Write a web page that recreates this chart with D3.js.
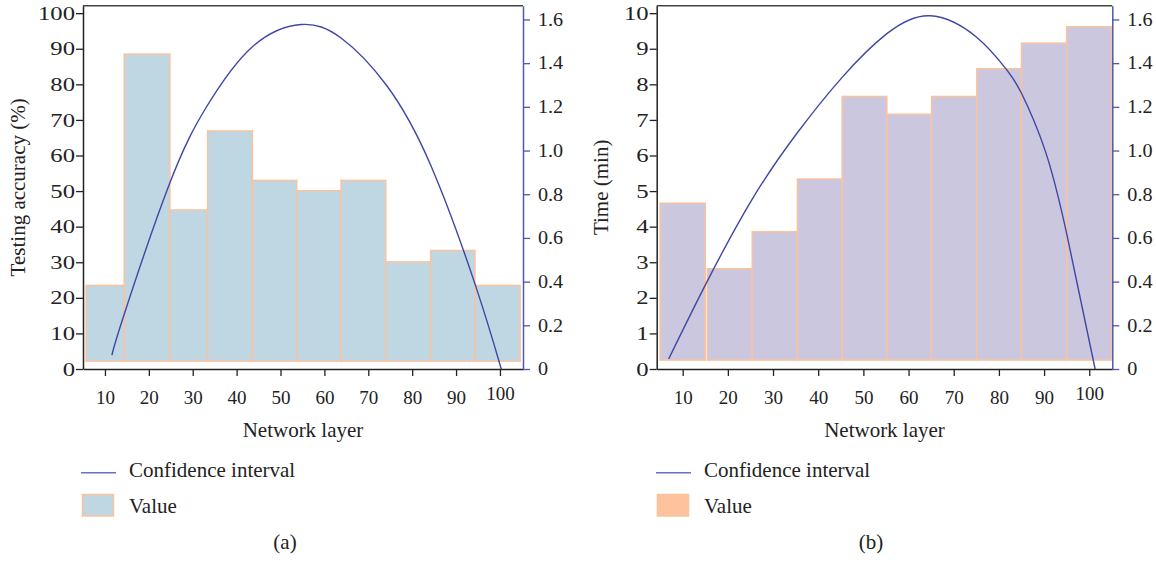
<!DOCTYPE html>
<html>
<head>
<meta charset="utf-8">
<script src="https://cdn.jsdelivr.net/npm/d3@7"></script>
<style>
  body { margin: 0; background: #fff; }
  text { font-family: "Liberation Serif", "Times New Roman", serif; fill: #222; }
</style>
</head>
<body>
<div id="chart"></div>
<script>
const width = 1156
const height = 561

/* Panel (a): testing accuracy per network layer bin */
const binStartA = [5.7, 14.4, 24.8, 33.4, 43.6, 53.7, 63.8, 74.0, 84.2, 94.3]
const binEndA = [14.4, 24.8, 33.4, 43.6, 53.7, 63.8, 74.0, 84.2, 94.3, 104.6]
const accuracy = [23.5, 88.5, 44.7, 66.9, 53.0, 50.1, 53.0, 30.1, 33.3, 23.5]
const accuracyBase = 2.2
const ciLayerA = [11.6, 14.3, 24.6, 33.3, 43.6, 54.7, 63.8, 74.1, 84.2, 94.4, 100.3]
const ciValueA = [0.064, 0.245, 0.842, 1.205, 1.475, 1.577, 1.515, 1.300, 0.934, 0.384, 0.0]

/* Panel (b): time per network layer bin */
const binStartB = [5.0, 15.45, 25.4, 35.4, 45.3, 55.2, 65.1, 75.1, 85.0, 95.0]
const binEndB = [15.0, 25.4, 35.4, 45.3, 55.2, 65.1, 75.1, 85.0, 95.0, 105.0]
const timeMin = [4.66, 2.82, 3.86, 5.34, 7.66, 7.16, 7.66, 8.44, 9.16, 9.62]
const timeBase = 0.25
const ciLayerB = [6.9, 15.4, 25.5, 35.3, 45.3, 55.2, 64.8, 75.0, 81.7, 85.0, 90.2, 95.0, 101.3]
const ciValueB = [0.046, 0.400, 0.781, 1.079, 1.335, 1.535, 1.617, 1.520, 1.370, 1.262, 1.002, 0.620, 0.0]

/* Ticks */
const layerTicks = [10, 20, 30, 40, 50, 60, 70, 80, 90, 100]
const accuracyTicks = [0, 10, 20, 30, 40, 50, 60, 70, 80, 90, 100]
const timeTicks = [0, 1, 2, 3, 4, 5, 6, 7, 8, 9, 10]
const ciTicks = [0, 0.2, 0.4, 0.6, 0.8, 1.0, 1.2, 1.4, 1.6]

const blue = '#3f46a6'
const axisBlue = '#5257aa'
const orange = '#fbc39d'

const svg = d3.select('#chart').append('svg').attr('width', width).attr('height', height)

drawPanel({
    left: 83, right: 523, top: 5.7, bottom: 369,
    xDomain: [5, 105.25], yMax: 102.1,
    yTicks: accuracyTicks, yTitle: 'Testing accuracy (%)', yTitleX: 25,
    bars: accuracy.map((v, i) => ({ x0: binStartA[i], x1: binEndA[i], v })),
    base: accuracyBase, fill: '#bfd6e3',
    ci: ciLayerA.map((x, i) => ({ x, v: ciValueA[i] })),
    swatchFill: '#bfd6e3', swatchStroke: orange,
    legendX: 81, captionX: 285, caption: '(a)'
})

drawPanel({
    left: 656.7, right: 1112.3, top: 5.7, bottom: 369,
    xDomain: [4.25, 105.1], yMax: 10.21,
    yTicks: timeTicks, yTitle: 'Time (min)', yTitleX: 608,
    bars: timeMin.map((v, i) => ({ x0: binStartB[i], x1: binEndB[i], v })),
    base: timeBase, fill: '#cbc7df',
    ci: ciLayerB.map((x, i) => ({ x, v: ciValueB[i] })),
    swatchFill: '#fdc39c', swatchStroke: '#fdc39c',
    legendX: 656, captionX: 871, caption: '(b)'
})

function drawPanel(c) {
    const x = d3.scaleLinear().domain(c.xDomain).range([c.left, c.right])
    const y = d3.scaleLinear().domain([0, c.yMax]).range([c.bottom, c.top])
    const yCi = d3.scaleLinear().domain([0, 1.663]).range([c.bottom, c.top])
    const g = svg.append('g')

    /* bars */
    g.selectAll('rect.bar')
        .data(c.bars)
        .join('rect')
        .attr('class', 'bar')
        .attr('x', d => x(d.x0))
        .attr('width', d => x(d.x1) - x(d.x0))
        .attr('y', d => y(d.v))
        .attr('height', d => y(c.base) - y(d.v))
        .attr('fill', c.fill)
        .attr('stroke', orange)
        .attr('stroke-width', 1.5)

    /* confidence curve */
    const line = d3.line().x(d => x(d.x)).y(d => yCi(d.v)).curve(d3.curveNatural)
    g.append('path')
        .datum(c.ci)
        .attr('d', line)
        .attr('fill', 'none')
        .attr('stroke', blue)
        .attr('stroke-width', 1.4)

    /* frame top */
    g.append('line')
        .attr('x1', c.left).attr('x2', c.right)
        .attr('y1', c.top).attr('y2', c.top)
        .attr('stroke', '#444').attr('stroke-width', 1.5)

    /* bottom axis */
    const xAxis = g.append('g')
        .attr('transform', `translate(0,${c.bottom})`)
        .call(d3.axisBottom(x).tickValues(layerTicks).tickSize(7).tickPadding(15).tickSizeOuter(0))
    xAxis.select('.domain').attr('stroke', '#222').attr('stroke-width', 1.5)
    xAxis.selectAll('.tick line').attr('stroke', '#222').attr('stroke-width', 1.3)
    xAxis.selectAll('.tick text')
        .attr('fill', '#222')
        .style('font-size', '19px')
        .style('font-family', '"Liberation Serif", serif')
        .attr('dy', d => d === 100 ? '0.45em' : '0.71em')

    /* left axis */
    const yAxis = g.append('g')
        .attr('transform', `translate(${c.left},0)`)
        .call(d3.axisLeft(y).tickValues(c.yTicks).tickSize(7).tickSizeOuter(0))
    yAxis.select('.domain').attr('stroke', '#222').attr('stroke-width', 1.5)
    yAxis.selectAll('.tick line').attr('stroke', '#222').attr('stroke-width', 1.3)
    yAxis.selectAll('.tick text')
        .attr('fill', '#222')
        .style('font-size', '19px')
        .style('font-family', '"Liberation Serif", serif')
        .attr('x', 0)
        .attr('transform', 'translate(-8,0) scale(1.3,1)')

    /* right axis */
    const ciAxis = g.append('g')
        .attr('transform', `translate(${c.right},0)`)
        .call(d3.axisRight(yCi).tickValues(ciTicks).tickSize(7).tickSizeOuter(0)
            .tickFormat(d => d === 0 ? '0' : d3.format('.1f')(d)))
    ciAxis.select('.domain').attr('stroke', axisBlue).attr('stroke-width', 1.5)
    ciAxis.selectAll('.tick line').attr('stroke', axisBlue).attr('stroke-width', 1.3)
    ciAxis.selectAll('.tick text')
        .attr('fill', axisBlue)
        .style('font-size', '18px')
        .style('font-family', '"Liberation Serif", serif')
        .attr('x', 0)
        .attr('transform', 'translate(15,0) scale(1.12,1)')

    /* axis titles */
    g.append('text')
        .attr('transform', `translate(${c.yTitleX},${(c.top + c.bottom) / 2}) rotate(-90)`)
        .attr('text-anchor', 'middle')
        .style('font-size', '21px')
        .text(c.yTitle)
    g.append('text')
        .attr('x', (c.left + c.right) / 2)
        .attr('y', 437)
        .attr('text-anchor', 'middle')
        .style('font-size', '21px')
        .text('Network layer')

    /* legend */
    const lg = g.append('g').attr('transform', `translate(${c.legendX},0)`)
    lg.append('line')
        .attr('x1', 0).attr('x2', 35)
        .attr('y1', 472.7).attr('y2', 472.7)
        .attr('stroke', '#6a6fc0').attr('stroke-width', 1.6)
    lg.append('text').attr('x', 48).attr('y', 477).style('font-size', '21px').text('Confidence interval')
    lg.append('rect')
        .attr('x', 1.5).attr('y', 494.5).attr('width', 31).attr('height', 21.5)
        .attr('fill', c.swatchFill).attr('stroke', c.swatchStroke).attr('stroke-width', 1.5)
    lg.append('text').attr('x', 48).attr('y', 512.5).style('font-size', '21px').text('Value')

    g.append('text')
        .attr('x', c.captionX).attr('y', 549)
        .attr('text-anchor', 'middle')
        .style('font-size', '21px')
        .text(c.caption)
}
</script>
</body>
</html>
